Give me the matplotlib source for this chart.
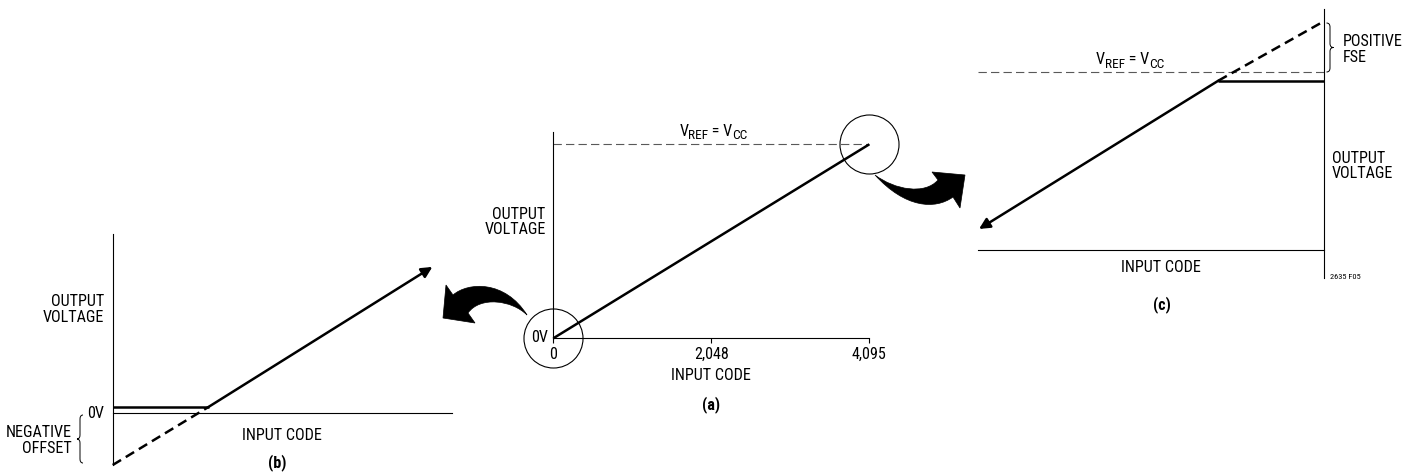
import matplotlib
matplotlib.use("Agg")
import matplotlib.pyplot as plt
from matplotlib.path import Path
from matplotlib.patches import PathPatch

plt.rcParams['font.family'] = ['Roboto Condensed', 'Liberation Sans', 'DejaVu Sans']
plt.rcParams['lines.scale_dashes'] = False

W, H = 1417, 474

# ---------------- data ----------------
# (a) ideal transfer: input code vs output voltage (fraction of VREF)
a_codes = [0, 4095]
a_volts = [0.0, 1.0]
a_ticks = [0, 2048, 4095]
a_ticklabels = ['0', '2,048', '4,095']
a_vref = 1.0

# (b) zoom near zero: negative offset (normalised units)
b_ideal_x = [0.0, 0.284]
b_ideal_y = [-0.152, 0.020]
b_flat_x = [0.0, 0.284]
b_flat_y = [0.020, 0.020]
b_ramp_x = [0.284, 0.943]
b_ramp_y = [0.020, 0.432]

# (c) zoom near full scale: positive full-scale error (normalised units)
c_vref = 0.5136
c_ideal_x = [0.694, 0.997]
c_ideal_y = [0.4893, 0.66]
c_flat_x = [0.694, 1.0]
c_flat_y = [0.4893, 0.4893]
c_ramp_x = [0.694, 0.003]
c_ramp_y = [0.4893, 0.0607]

FS = 11.6
SUB = 9.6


def fx(x):
    return x / W


def fy(y):
    return 1 - y / H


fig = plt.figure(figsize=(W / 100, H / 100), dpi=100)

# ---------------- panel (a) ----------------
ax_a = fig.add_axes([fx(553.3), fy(338.3), (869.3 - 553.3) / W, (338.3 - 131.7) / H])
ax_a.set_xlim(0, 4095)
ax_a.set_ylim(0, 1.065)
ax_a.patch.set_visible(False)
for s in ['top', 'right']:
    ax_a.spines[s].set_visible(False)
for s in ['left', 'bottom']:
    ax_a.spines[s].set_linewidth(0.8)
ax_a.set_xticks(a_ticks)
ax_a.set_xticklabels(a_ticklabels, fontsize=FS)
ax_a.set_yticks([])
ax_a.tick_params(axis='x', direction='out', length=3.5, width=0.8, pad=3)
ax_a.plot([a_codes[0], a_codes[-1]], [a_vref, a_vref], color='0.35', lw=0.8,
          dashes=(6, 3), clip_on=False)
ax_a.plot(a_codes, a_volts, color='k', lw=1.8, solid_capstyle='butt', clip_on=False)
ax_a.plot([a_codes[0], a_codes[-1]], [a_volts[0], a_volts[-1]], ls='none', marker='o',
          ms=42.5, mfc='none', mec='k', mew=0.8, clip_on=False)

# ---------------- panel (b) ----------------
ax_b = fig.add_axes([fx(112.7), fy(465), 339 / W, 231 / H])
ax_b.set_xlim(0, 1)
ax_b.set_ylim(-0.152, 0.529)
ax_b.patch.set_visible(False)
for s in ['top', 'right']:
    ax_b.spines[s].set_visible(False)
ax_b.spines['left'].set_linewidth(0.8)
ax_b.spines['bottom'].set_linewidth(0.8)
ax_b.spines['bottom'].set_position(('data', 0))
ax_b.set_xticks([])
ax_b.set_yticks([])
ax_b.plot(b_ideal_x, b_ideal_y, color='k', lw=1.8, dashes=(7, 4), clip_on=False)
ax_b.plot(b_flat_x, b_flat_y, color='k', lw=1.8, solid_capstyle='butt', clip_on=False)
ax_b.annotate('', xy=(b_ramp_x[1], b_ramp_y[1]), xytext=(b_ramp_x[0], b_ramp_y[0]),
              arrowprops=dict(arrowstyle='-|>', color='k', lw=1.8, mutation_scale=16,
                              shrinkA=0, shrinkB=0), annotation_clip=False)

# ---------------- panel (c) ----------------
ax_c = fig.add_axes([fx(978), fy(278), 346.3 / W, 269 / H])
ax_c.set_xlim(0, 1)
ax_c.set_ylim(-0.081, 0.6965)
ax_c.patch.set_visible(False)
for s in ['top', 'left']:
    ax_c.spines[s].set_visible(False)
ax_c.spines['right'].set_linewidth(0.8)
ax_c.spines['bottom'].set_linewidth(0.8)
ax_c.spines['bottom'].set_position(('data', 0))
ax_c.set_xticks([])
ax_c.set_yticks([])
ax_c.plot([0, 1], [c_vref, c_vref], color='0.35', lw=0.8, dashes=(6, 3), clip_on=False)
ax_c.plot(c_ideal_x, c_ideal_y, color='k', lw=1.8, dashes=(7, 4), clip_on=False)
ax_c.plot(c_flat_x, c_flat_y, color='k', lw=1.8, solid_capstyle='butt', clip_on=False)
ax_c.annotate('', xy=(c_ramp_x[1], c_ramp_y[1]), xytext=(c_ramp_x[0], c_ramp_y[0]),
              arrowprops=dict(arrowstyle='-|>', color='k', lw=1.8, mutation_scale=16,
                              shrinkA=0, shrinkB=0), annotation_clip=False)

# ---------------- overlay (pixel coordinates) ----------------
ov = fig.add_axes([0, 0, 1, 1], zorder=5)
ov.set_xlim(0, W)
ov.set_ylim(H, 0)
ov.axis('off')
ov.patch.set_visible(False)


def txt(x, y, s, ha='center', size=FS, weight='normal', va='center'):
    ov.text(x, y, s, ha=ha, va=va, fontsize=size, fontweight=weight, linespacing=1.05)


renderer = fig.canvas.get_renderer()


def composed(xc, y_base, parts):
    """parts: list of (string, fontsize, dy_px) placed left-to-right, centred on xc."""
    objs = []
    widths = []
    for s, size, dy in parts:
        t = ov.text(0, y_base + dy, s, ha='left', va='baseline', fontsize=size)
        objs.append(t)
        widths.append(t.get_window_extent(renderer).width)
    x = xc - sum(widths) / 2
    for t, w in zip(objs, widths):
        t.set_x(x)
        x += w


vref_parts = [('V', FS, 0), ('REF', SUB, 3.5), (' = V', FS, 0), ('CC', SUB, 3.5)]

# (a) labels
txt(545.7, 222, 'OUTPUT\nVOLTAGE', ha='right')
txt(548.5, 338, '0V', ha='right')
txt(711, 376, 'INPUT CODE')
composed(713.5, 135.5, vref_parts)
txt(711, 405, '(a)', weight='bold')

# (b) labels
txt(104, 309.5, 'OUTPUT\nVOLTAGE', ha='right')
txt(104.5, 413.5, '0V', ha='right')
txt(72, 440.5, 'NEGATIVE\nOFFSET', ha='right')
txt(282, 435, 'INPUT CODE')
txt(277, 463, '(b)', weight='bold')

# (c) labels
composed(1130, 64, vref_parts)
txt(1342.5, 49.5, 'POSITIVE\nFSE', ha='left')
txt(1332, 166, 'OUTPUT\nVOLTAGE', ha='left')
txt(1160.7, 268, 'INPUT CODE')
txt(1162, 305, '(c)', weight='bold')
txt(1330, 277, '2635 F05', ha='left', size=6)


def brace(x0, yt, yb, w, direction=1):
    ym = (yt + yb) / 2
    r = 4
    xm = x0 + direction * w / 2
    xt = x0 + direction * w
    verts = [(x0, yt), (xm, yt), (xm, yt + r), (xm, ym - r), (xm, ym), (xt, ym),
             (xm, ym), (xm, ym + r), (xm, yb - r), (xm, yb), (x0, yb)]
    codes = [Path.MOVETO, Path.CURVE3, Path.CURVE3, Path.LINETO, Path.CURVE3, Path.CURVE3,
             Path.CURVE3, Path.CURVE3, Path.LINETO, Path.CURVE3, Path.CURVE3]
    ov.add_patch(PathPatch(Path(verts, codes), fill=False, lw=0.7, ec='k'))


brace(1326.5, 23, 72, 7, direction=1)
brace(83, 415, 463, 6, direction=-1)

# curved arrows (filled shapes)
left_arrow = [
    (Path.MOVETO, (453, 295)),
    (Path.CURVE4, (468, 282)), (Path.CURVE4, (505, 280)), (Path.CURVE4, (527, 315)),
    (Path.CURVE4, (512, 300)), (Path.CURVE4, (480, 296)), (Path.CURVE4, (468, 313)),
    (Path.LINETO, (475, 323)),
    (Path.LINETO, (443, 318)),
    (Path.LINETO, (446, 285)),
    (Path.CLOSEPOLY, (453, 295)),
]
right_arrow = [
    (Path.MOVETO, (875, 175)),
    (Path.CURVE4, (895, 190)), (Path.CURVE4, (925, 195)), (Path.CURVE4, (938, 180)),
    (Path.LINETO, (932, 172)),
    (Path.LINETO, (965, 175)),
    (Path.LINETO, (960, 208)),
    (Path.LINETO, (953, 197)),
    (Path.CURVE4, (935, 210)), (Path.CURVE4, (905, 208)), (Path.CURVE4, (875, 175)),
    (Path.CLOSEPOLY, (875, 175)),
]
for shape in (left_arrow, right_arrow):
    codes, verts = zip(*shape)
    ov.add_patch(PathPatch(Path(verts, codes), fc='k', ec='k', lw=0.5))

fig.savefig('out.png', dpi=100)
